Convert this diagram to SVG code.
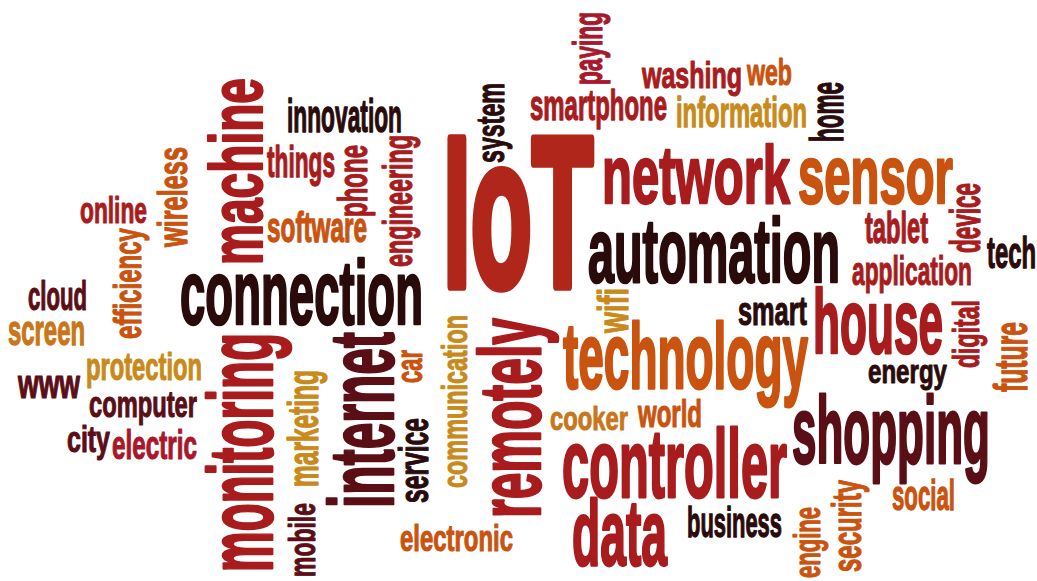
<svg xmlns="http://www.w3.org/2000/svg" width="1037" height="581" viewBox="0 0 1037 581">
<style>
text{font-family:"Liberation Sans",Arial,sans-serif;font-weight:bold;stroke-width:0.03em;stroke-linejoin:round}
.r{fill:#a81c1e;stroke:#a81c1e}
.i{fill:#b1261a;stroke:#b1261a;stroke-width:0.045em}
.c{fill:#a8182c;stroke:#a8182c}
.d{fill:#2a0b0b;stroke:#2a0b0b}
.m{fill:#5a0e16;stroke:#5a0e16}
.o{fill:#c9530f;stroke:#c9530f}
.g{fill:#c98a1c;stroke:#c98a1c}
.y{fill:#c9761a;stroke:#c9761a}
</style>
<rect width="1037" height="581" fill="#ffffff"/>
<g id="words">
<text class="r" x="642" y="88" font-size="37" textLength="100" lengthAdjust="spacingAndGlyphs">washing</text>
<text class="o" x="747" y="85" font-size="36" textLength="45" lengthAdjust="spacingAndGlyphs">web</text>
<text class="g" x="676" y="127" font-size="43" textLength="131" lengthAdjust="spacingAndGlyphs">information</text>
<text class="r" x="530" y="120" font-size="43" textLength="137" lengthAdjust="spacingAndGlyphs">smartphone</text>
<text class="d" x="287" y="132" font-size="46" textLength="115" lengthAdjust="spacingAndGlyphs">innovation</text>
<text class="r" x="267" y="177" font-size="45" textLength="68" lengthAdjust="spacingAndGlyphs">things</text>
<text class="o" x="267" y="242" font-size="43" textLength="100" lengthAdjust="spacingAndGlyphs">software</text>
<text class="i" x="443" y="286" font-size="214" textLength="150" lengthAdjust="spacingAndGlyphs">IoT</text>
<text class="r" x="602" y="203" font-size="82" textLength="188" lengthAdjust="spacingAndGlyphs">network</text>
<text class="o" x="798" y="203" font-size="82" textLength="155" lengthAdjust="spacingAndGlyphs">sensor</text>
<text class="d" x="588" y="282" font-size="91" textLength="252" lengthAdjust="spacingAndGlyphs">automation</text>
<text class="r" x="865" y="243" font-size="44" textLength="63" lengthAdjust="spacingAndGlyphs">tablet</text>
<text class="d" x="987" y="268" font-size="44" textLength="49" lengthAdjust="spacingAndGlyphs">tech</text>
<text class="r" x="852" y="285" font-size="40" textLength="120" lengthAdjust="spacingAndGlyphs">application</text>
<text class="d" x="180" y="324" font-size="90" textLength="243" lengthAdjust="spacingAndGlyphs">connection</text>
<text class="r" x="80" y="223" font-size="37" textLength="67" lengthAdjust="spacingAndGlyphs">online</text>
<text class="m" x="28" y="310" font-size="40" textLength="59" lengthAdjust="spacingAndGlyphs">cloud</text>
<text class="y" x="8" y="345" font-size="43" textLength="77" lengthAdjust="spacingAndGlyphs">screen</text>
<text class="g" x="86" y="380" font-size="39" textLength="116" lengthAdjust="spacingAndGlyphs">protection</text>
<text class="m" x="18" y="398" font-size="41" textLength="62" lengthAdjust="spacingAndGlyphs">www</text>
<text class="m" x="89" y="417" font-size="37" textLength="108" lengthAdjust="spacingAndGlyphs">computer</text>
<text class="m" x="67" y="452" font-size="36" textLength="43" lengthAdjust="spacingAndGlyphs">city</text>
<text class="c" x="112" y="459" font-size="41" textLength="85" lengthAdjust="spacingAndGlyphs">electric</text>
<text class="o" x="400" y="551" font-size="36" textLength="113" lengthAdjust="spacingAndGlyphs">electronic</text>
<text class="d" x="738" y="325" font-size="40" textLength="69" lengthAdjust="spacingAndGlyphs">smart</text>
<text class="o" x="563" y="388" font-size="93" textLength="245" lengthAdjust="spacingAndGlyphs">technology</text>
<text class="r" x="813" y="353" font-size="90" textLength="130" lengthAdjust="spacingAndGlyphs">house</text>
<text class="d" x="868" y="383" font-size="33" textLength="79" lengthAdjust="spacingAndGlyphs">energy</text>
<text class="m" x="792" y="463" font-size="94" textLength="198" lengthAdjust="spacingAndGlyphs">shopping</text>
<text class="o" x="892" y="510" font-size="43" textLength="63" lengthAdjust="spacingAndGlyphs">social</text>
<text class="y" x="550" y="430" font-size="33" textLength="78" lengthAdjust="spacingAndGlyphs">cooker</text>
<text class="o" x="638" y="427" font-size="39" textLength="64" lengthAdjust="spacingAndGlyphs">world</text>
<text class="r" x="562" y="497" font-size="96" textLength="225" lengthAdjust="spacingAndGlyphs">controller</text>
<text class="r" x="572" y="565" font-size="93" textLength="95" lengthAdjust="spacingAndGlyphs">data</text>
<text class="d" x="687" y="537" font-size="43" textLength="95" lengthAdjust="spacingAndGlyphs">business</text>
<text class="c" transform="translate(602,85) rotate(-90)" font-size="40" textLength="73" lengthAdjust="spacingAndGlyphs">paying</text>
<text class="d" transform="translate(504,163) rotate(-90)" font-size="38" textLength="80" lengthAdjust="spacingAndGlyphs">system</text>
<text class="d" transform="translate(843,142) rotate(-90)" font-size="47" textLength="60" lengthAdjust="spacingAndGlyphs">home</text>
<text class="r" transform="translate(367,217) rotate(-90)" font-size="40" textLength="72" lengthAdjust="spacingAndGlyphs">phone</text>
<text class="r" transform="translate(412,267) rotate(-90)" font-size="40" textLength="132" lengthAdjust="spacingAndGlyphs">engineering</text>
<text class="r" transform="translate(262,265) rotate(-90)" font-size="74" textLength="187" lengthAdjust="spacingAndGlyphs">machine</text>
<text class="o" transform="translate(187,247) rotate(-90)" font-size="41" textLength="100" lengthAdjust="spacingAndGlyphs">wireless</text>
<text class="o" transform="translate(141,339) rotate(-90)" font-size="39" textLength="111" lengthAdjust="spacingAndGlyphs">efficiency</text>
<text class="r" transform="translate(272,572) rotate(-90)" font-size="91" textLength="239" lengthAdjust="spacingAndGlyphs">monitoring</text>
<text class="m" transform="translate(315,577) rotate(-90)" font-size="36" textLength="74" lengthAdjust="spacingAndGlyphs">mobile</text>
<text class="g" transform="translate(318,487) rotate(-90)" font-size="43" textLength="117" lengthAdjust="spacingAndGlyphs">marketing</text>
<text class="m" transform="translate(393,508) rotate(-90)" font-size="90" textLength="176" lengthAdjust="spacingAndGlyphs">internet</text>
<text class="d" transform="translate(428,503) rotate(-90)" font-size="40" textLength="85" lengthAdjust="spacingAndGlyphs">service</text>
<text class="o" transform="translate(422,383) rotate(-90)" font-size="36" textLength="33" lengthAdjust="spacingAndGlyphs">car</text>
<text class="g" transform="translate(467,488) rotate(-90)" font-size="35" textLength="173" lengthAdjust="spacingAndGlyphs">communication</text>
<text class="r" transform="translate(540,518) rotate(-90)" font-size="88" textLength="200" lengthAdjust="spacingAndGlyphs">remotely</text>
<text class="g" transform="translate(628,333) rotate(-90)" font-size="42" textLength="45" lengthAdjust="spacingAndGlyphs">wifi</text>
<text class="r" transform="translate(979,368) rotate(-90)" font-size="37" textLength="68" lengthAdjust="spacingAndGlyphs">digital</text>
<text class="o" transform="translate(1027,392) rotate(-90)" font-size="46" textLength="70" lengthAdjust="spacingAndGlyphs">future</text>
<text class="o" transform="translate(861,572) rotate(-90)" font-size="40" textLength="92" lengthAdjust="spacingAndGlyphs">security</text>
<text class="o" transform="translate(820,578) rotate(-90)" font-size="36" textLength="71" lengthAdjust="spacingAndGlyphs">engine</text>
<text class="r" transform="translate(980,253) rotate(-90)" font-size="43" textLength="70" lengthAdjust="spacingAndGlyphs">device</text>
</g>
</svg>
